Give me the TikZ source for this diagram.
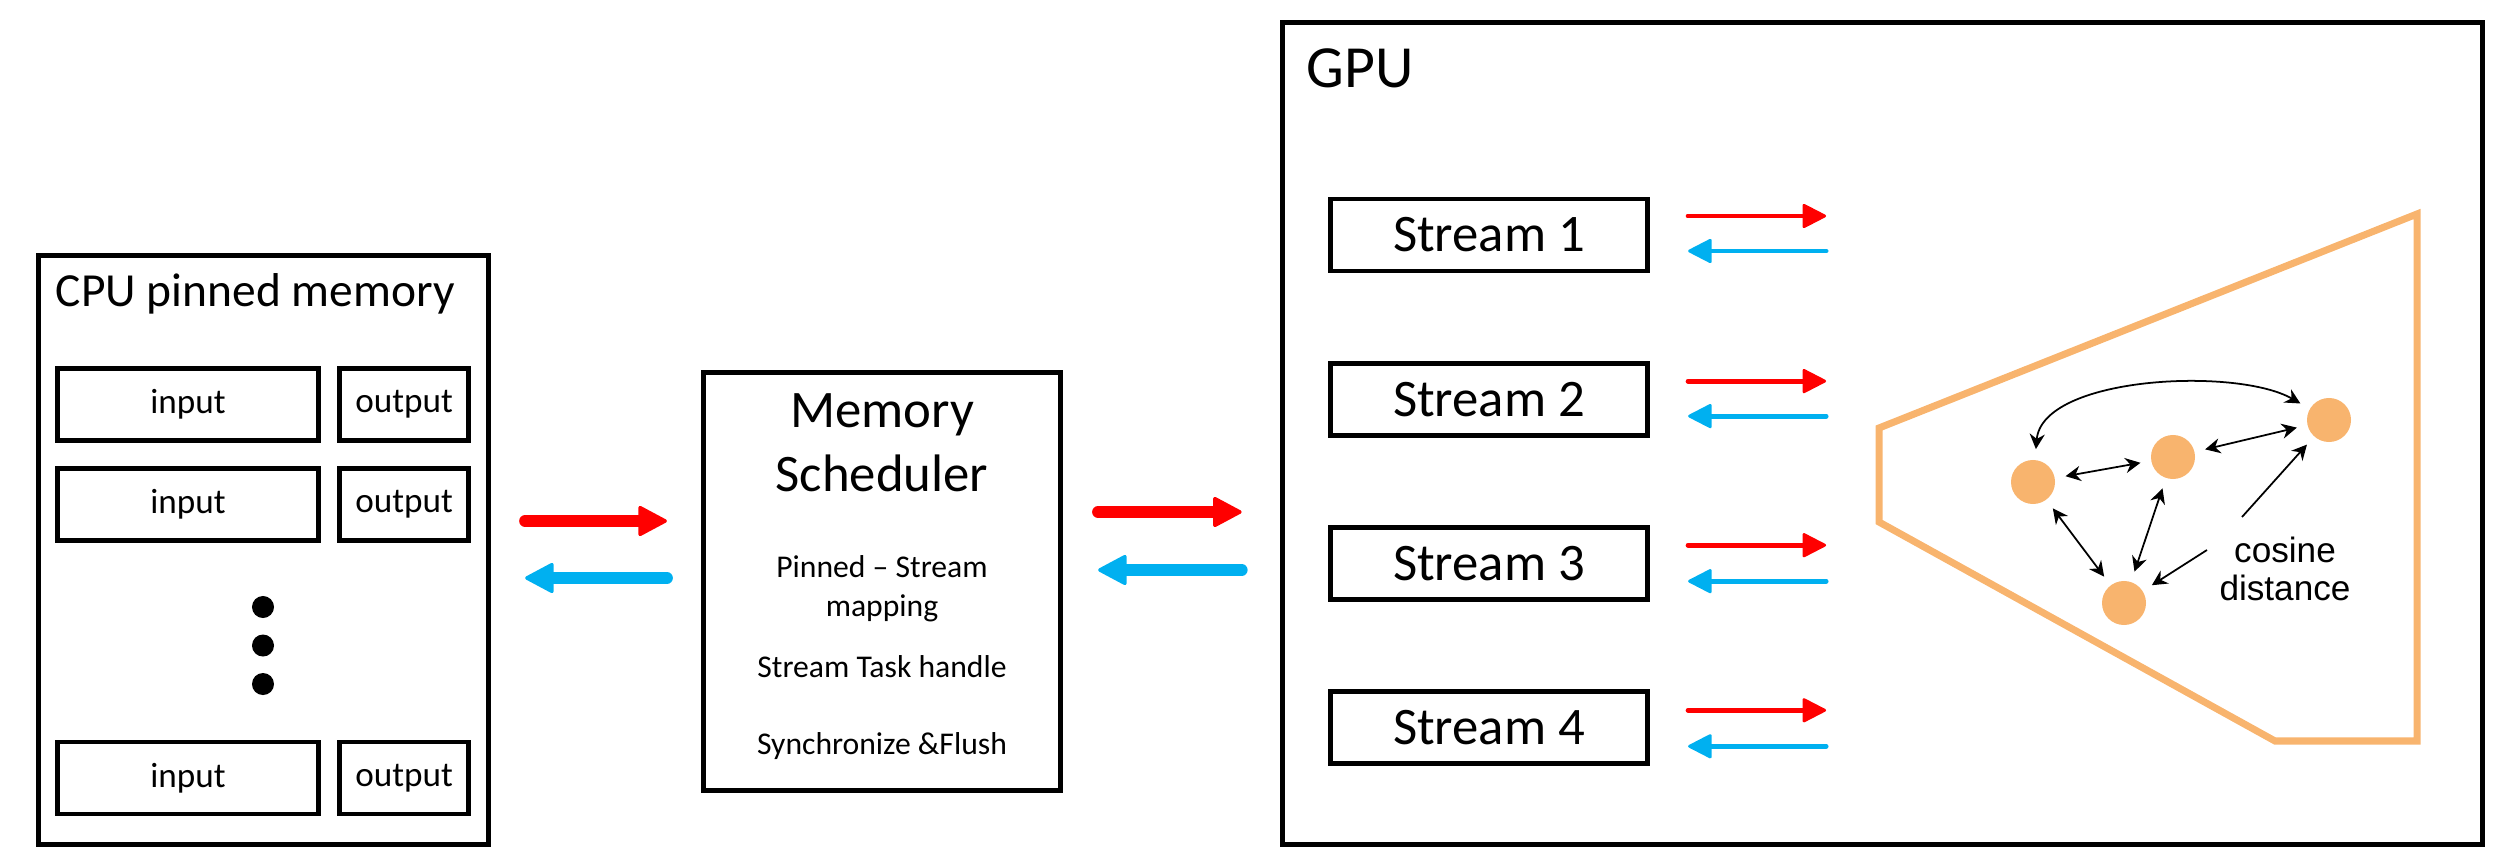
\documentclass[tikz,border=0pt]{standalone}
\usepackage{fontspec}
\setmainfont{Carlito}
\newfontfamily\arialfont{Liberation Sans}
\usepackage{tikz}
\usetikzlibrary{positioning,shapes,arrows.meta,calc}
\definecolor{peach}{RGB}{248,180,110}
\definecolor{skyblue}{RGB}{0,176,240}
\definecolor{pureRed}{RGB}{255,0,0}
\tikzstyle{bigbox} = [rectangle, draw, line width=1.4pt, inner sep=0pt, outer sep=0pt]
\tikzstyle{cell} = [rectangle, draw, line width=1.4pt, inner sep=0pt, outer sep=0pt, %
   minimum height=0.72cm, font=\fontsize{10}{12}\selectfont]
\tikzstyle{streambox} = [rectangle, draw, line width=1.4pt, inner sep=0pt, outer sep=0pt, %
   minimum width=3.17cm, minimum height=0.72cm, font=\fontsize{15}{18}\selectfont]
\tikzstyle{txt} = [inner sep=0pt, align=center]
\tikzstyle{ellipsisdot} = [circle, fill=black, minimum size=0.22cm, inner sep=0pt, outer sep=0pt]
\tikzstyle{feat} = [circle, fill=peach, minimum size=0.44cm, inner sep=0pt, outer sep=0.11cm]
\tikzstyle{bigout} = [draw, pureRed, line width=3.4pt, line cap=round, %
   -{Triangle[round, line width=1pt, length=8.7pt, width=9pt]}]
\tikzstyle{bigin} = [bigout, skyblue]
\tikzstyle{smallout} = [draw, pureRed, line width=1.4pt, line cap=round, %
   -{Triangle[round, line width=0.8pt, length=7.2pt, width=7.2pt]}]
\tikzstyle{smallin} = [smallout, skyblue]
\tikzstyle{dist} = [draw, line width=0.5pt, %
   {Stealth[length=4.3pt, width=4.3pt]}-{Stealth[length=4.3pt, width=4.3pt]}]
\tikzstyle{distone} = [draw, line width=0.5pt, -{Stealth[length=4.3pt, width=4.3pt]}]

\begin{document}
\begin{tikzpicture}[x=0.01cm, y=-0.01cm]
   \useasboundingbox (0,0) rectangle (2517,867);

   % Large Boxes %%%%%%%%%%%%%%%%%%%%%%%%%%%%%%%%%%%%%%%%%%%%%%%%%%%%%%
      \node[bigbox, minimum width=4.49cm, minimum height=5.88cm] (CPU) at (263.5,550) {};
      \node[bigbox, minimum width=3.57cm, minimum height=4.18cm] (Sched) at (882,581.5) {};
      \node[bigbox, minimum width=11.99cm, minimum height=8.21cm] (GPU) at (1882.5,433.5) {};

   % CPU SIDE %%%%%%%%%%%%%%%%%%%%%%%%%%%%%%%%%%%%%%%%%%%%%%%%%%%%%%%%%%
      \node[txt, anchor=base west, font=\fontsize{13.5}{16}\selectfont] (CPUtitle) at (55,307) {CPU pinned memory};

      \node[cell, minimum width=2.61cm] (In1) at (188,404.5) {input};
      \node[cell, minimum width=1.29cm, right=0.21cm of In1] (Out1) {output};
      \node[cell, minimum width=2.61cm, below=0.28cm of In1] (In2) {input};
      \node[cell, minimum width=1.29cm, right=0.21cm of In2] (Out2) {output};

      \node[ellipsisdot] (Dot1) at (263,607) {};
      \node[ellipsisdot, below=0.165cm of Dot1] (Dot2) {};
      \node[ellipsisdot, below=0.165cm of Dot2] (Dot3) {};

      \node[cell, minimum width=2.61cm] (InN) at (188,778) {input};
      \node[cell, minimum width=1.29cm, right=0.21cm of InN] (OutN) {output};

   % SCHEDULER %%%%%%%%%%%%%%%%%%%%%%%%%%%%%%%%%%%%%%%%%%%%%%%%%%%%%%%%%
      \node[txt, font=\fontsize{15}{18.2}\selectfont] (SchedTitle) at (882,443) {Memory\\Scheduler};
      \node[txt, font=\fontsize{9}{11.2}\selectfont] (Mapping) at (882,589) {Pinned – Stream\\mapping};
      \node[txt, font=\fontsize{9}{11}\selectfont] (TaskHandle) at (882,667) {Stream Task handle};
      \node[txt, font=\fontsize{9}{11}\selectfont] (SyncFlush) at (882,746) {Synchronize \&Flush};

   % GPU SIDE %%%%%%%%%%%%%%%%%%%%%%%%%%%%%%%%%%%%%%%%%%%%%%%%%%%%%%%%%%
      \node[txt, anchor=base west, font=\fontsize{17}{20}\selectfont] (GPUtitle) at (1306,88) {GPU};

      \node[streambox] (S1) at (1489,235) {Stream 1};
      \node[streambox, below=0.92cm of S1] (S2) {Stream 2};
      \node[streambox, below=0.92cm of S2] (S3) {Stream 3};
      \node[streambox, below=0.92cm of S3] (S4) {Stream 4};

      % feature space
      \draw[peach, line width=2pt, line join=miter] (1879,428) -- (2417,214) -- (2417,741) %
         -- (2275,741) -- (1879,522) -- cycle;

      \node[feat] (FeatA) at (2033,482) {};
      \node[feat] (FeatB) at (2173,457) {};
      \node[feat] (FeatC) at (2329,420) {};
      \node[feat] (FeatD) at (2124,603) {};

      \node[txt, font=\arialfont\fontsize{10}{10.8}\selectfont] (CosDist) at (2285,568.5) {cosine\\distance};
      \coordinate (CosA) at (2242,517);
      \coordinate (CosB) at (2207,550);

      % Draw edges
      % CPU <-> Scheduler
      \path [bigout] ([shift={(37,-29)}]CPU.east) -- ([shift={(-36.5,-60.5)}]Sched.west);
      \path [bigin] ([shift={(-36.5,-3.5)}]Sched.west) -- ([shift={(37,28)}]CPU.east);
      % Scheduler <-> GPU
      \path [bigout] ([shift={(37.5,-69.5)}]Sched.east) -- ([shift={(-41,78.5)}]GPU.west);
      \path [bigin] ([shift={(-41,136.5)}]GPU.west) -- ([shift={(37.5,-11.5)}]Sched.east);

      % Streams
      \path [smallout] ([shift={(40.5,-19)}]S1.east) -- ([shift={(178.5,-19)}]S1.east);
      \path [smallin] ([shift={(178.5,16)}]S1.east) -- ([shift={(40.5,16)}]S1.east);
      \path [smallout] ([shift={(40.5,-18)}]S2.east) -- ([shift={(178.5,-18)}]S2.east);
      \path [smallin] ([shift={(178.5,17)}]S2.east) -- ([shift={(40.5,17)}]S2.east);
      \path [smallout] ([shift={(40.5,-18)}]S3.east) -- ([shift={(178.5,-18)}]S3.east);
      \path [smallin] ([shift={(178.5,18)}]S3.east) -- ([shift={(40.5,18)}]S3.east);
      \path [smallout] ([shift={(40.5,-17)}]S4.east) -- ([shift={(178.5,-17)}]S4.east);
      \path [smallin] ([shift={(178.5,19)}]S4.east) -- ([shift={(40.5,19)}]S4.east);

      % Distances
      \path [dist] (FeatA) to[out=85, in=150, looseness=0.7] (FeatC);
      \path [dist] (FeatA) -- (FeatB);
      \path [dist] (FeatB) -- (FeatC);
      \path [dist] (FeatA) -- (FeatD);
      \path [dist] (FeatB) -- (FeatD);
      \path [distone] (CosA) -- (FeatC);
      \path [distone] (CosB) -- (FeatD);

\end{tikzpicture}
\end{document}
